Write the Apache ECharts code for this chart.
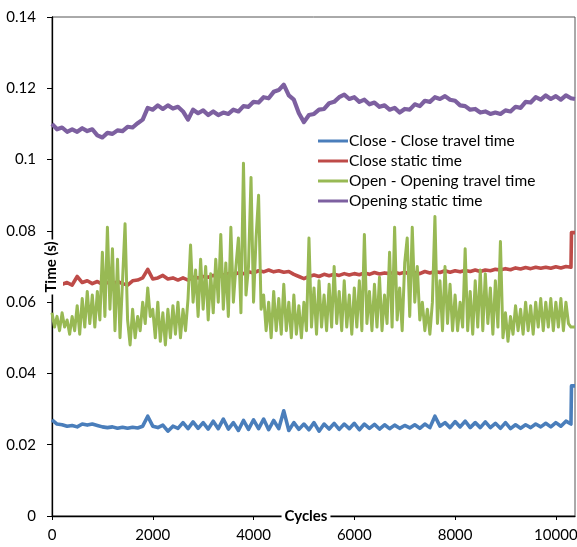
<!DOCTYPE html>
<html>
<head>
<meta charset="utf-8">
<script src="https://cdn.jsdelivr.net/npm/echarts@6/dist/echarts.min.js"></script>
<style>
html,body{margin:0;padding:0;background:#fff;}
#c{width:577px;height:547px;}
</style>
</head>
<body>
<div id="c"></div>
<script>
// ---- Data ----
var seriesNames = ["Close - Close travel time", "Close static time", "Open - Opening travel time", "Opening static time"];
var xAxisTitle = "Cycles";
var yAxisTitle = "Time (s)";
var yTickLabels = ["0", "0.02", "0.04", "0.06", "0.08", "0.1", "0.12", "0.14"];
var xTickLabels = ["0", "2000", "4000", "6000", "8000", "10000"];

// Close - Close travel time (blue)
var blueCycles = [0,100,200,300,400,500,600,700,800,900,1000,1100,1200,1300,1400,1500,1600,1700,1800,1900,2000,2100,2200,2300,2400,2500,2600,2700,2800,2900,3000,3100,3200,3300,3400,3500,3600,3700,3800,3900,4000,4100,4200,4300,4400,4500,4600,4700,4800,4900,5000,5100,5200,5300,5400,5500,5600,5700,5800,5900,6000,6100,6200,6300,6400,6500,6600,6700,6800,6900,7000,7100,7200,7300,7400,7500,7600,7700,7800,7900,8000,8100,8200,8300,8400,8500,8600,8700,8800,8900,9000,9100,9200,9300,9400,9500,9600,9700,9800,9900,10000,10100,10200,10300,10310,10380];
var blueValues = [0.0270,0.0258,0.0256,0.0252,0.0254,0.0250,0.0258,0.0255,0.0258,0.0254,0.0250,0.0248,0.0250,0.0246,0.0249,0.0246,0.0249,0.0247,0.0252,0.0280,0.0252,0.0248,0.0255,0.0238,0.0252,0.0246,0.0262,0.0245,0.0264,0.0246,0.0262,0.0244,0.0266,0.0245,0.0272,0.0244,0.0262,0.0240,0.0268,0.0243,0.0270,0.0245,0.0272,0.0242,0.0268,0.0245,0.0295,0.0240,0.0262,0.0243,0.0258,0.0242,0.0262,0.0238,0.0258,0.0244,0.0260,0.0243,0.0258,0.0245,0.0260,0.0242,0.0258,0.0246,0.0257,0.0244,0.0256,0.0245,0.0255,0.0246,0.0254,0.0247,0.0256,0.0246,0.0258,0.0248,0.0280,0.0252,0.0262,0.0248,0.0265,0.0250,0.0266,0.0248,0.0262,0.0248,0.0264,0.0248,0.0260,0.0246,0.0262,0.0245,0.0256,0.0246,0.0256,0.0248,0.0258,0.0250,0.0260,0.0250,0.0262,0.0252,0.0266,0.0258,0.0365,0.0365];

// Close static time (red)
var redCycles = [200,300,400,500,600,700,800,900,1000,1100,1200,1300,1400,1500,1600,1700,1800,1900,2000,2100,2200,2300,2400,2500,2600,2700,2800,2900,3000,3100,3200,3300,3400,3500,3600,3700,3800,3900,4000,4100,4200,4300,4400,4500,4600,4700,4800,4900,5000,5100,5200,5300,5400,5500,5600,5700,5800,5900,6000,6100,6200,6300,6400,6500,6600,6700,6800,6900,7000,7100,7200,7300,7400,7500,7600,7700,7800,7900,8000,8100,8200,8300,8400,8500,8600,8700,8800,8900,9000,9100,9200,9300,9400,9500,9600,9700,9800,9900,10000,10100,10200,10300,10310,10380];
var redValues = [0.0650,0.0655,0.0648,0.0672,0.0655,0.0660,0.0652,0.0658,0.0650,0.0655,0.0650,0.0658,0.0652,0.0648,0.0660,0.0662,0.0668,0.0692,0.0665,0.0668,0.0675,0.0665,0.0668,0.0662,0.0668,0.0662,0.0670,0.0668,0.0672,0.0670,0.0675,0.0672,0.0676,0.0680,0.0678,0.0682,0.0680,0.0685,0.0682,0.0688,0.0685,0.0690,0.0685,0.0688,0.0684,0.0686,0.0678,0.0672,0.0666,0.0672,0.0676,0.0672,0.0678,0.0674,0.0678,0.0675,0.0680,0.0676,0.0680,0.0677,0.0682,0.0678,0.0683,0.0679,0.0682,0.0680,0.0684,0.0680,0.0684,0.0679,0.0683,0.0680,0.0686,0.0682,0.0686,0.0683,0.0688,0.0684,0.0688,0.0685,0.0689,0.0686,0.0690,0.0686,0.0690,0.0688,0.0692,0.0690,0.0694,0.0691,0.0696,0.0693,0.0697,0.0694,0.0698,0.0695,0.0698,0.0695,0.0699,0.0696,0.0700,0.0698,0.0795,0.0795];

// Open - Opening travel time (green)
var greenCycles = [0,50,100,150,200,250,300,350,400,450,500,550,600,650,700,750,800,850,900,950,1000,1050,1100,1150,1200,1250,1300,1350,1400,1450,1500,1550,1600,1650,1700,1750,1800,1850,1900,1950,2000,2050,2100,2150,2200,2250,2300,2350,2400,2450,2500,2550,2600,2650,2700,2750,2800,2850,2900,2950,3000,3050,3100,3150,3200,3250,3300,3350,3400,3450,3500,3550,3600,3650,3700,3750,3800,3850,3900,3950,4000,4050,4100,4150,4200,4250,4300,4350,4400,4450,4500,4550,4600,4650,4700,4750,4800,4850,4900,4950,5000,5050,5100,5150,5200,5250,5300,5350,5400,5450,5500,5550,5600,5650,5700,5750,5800,5850,5900,5950,6000,6050,6100,6150,6200,6250,6300,6350,6400,6450,6500,6550,6600,6650,6700,6750,6800,6850,6900,6950,7000,7050,7100,7150,7200,7250,7300,7350,7400,7450,7500,7550,7600,7650,7700,7750,7800,7850,7900,7950,8000,8050,8100,8150,8200,8250,8300,8350,8400,8450,8500,8550,8600,8650,8700,8750,8800,8850,8900,8950,9000,9050,9100,9150,9200,9250,9300,9350,9400,9450,9500,9550,9600,9650,9700,9750,9800,9850,9900,9950,10000,10050,10100,10150,10200,10250,10300,10350,10380];
var greenValues = [
0.057,0.053,0.056,0.052,0.057,0.053,0.055,0.051,0.056,0.052,
0.059,0.051,0.061,0.053,0.063,0.054,0.062,0.053,0.063,0.055,
0.074,0.056,0.081,0.058,0.075,0.052,0.072,0.050,0.066,0.082,
0.055,0.048,0.058,0.050,0.056,0.052,0.060,0.054,0.064,0.056,
0.058,0.050,0.060,0.049,0.057,0.048,0.058,0.050,0.059,0.051,
0.060,0.050,0.058,0.052,0.061,0.076,0.060,0.069,0.056,0.072,
0.058,0.070,0.055,0.068,0.057,0.072,0.060,0.079,0.058,0.071,
0.056,0.081,0.060,0.070,0.078,0.057,0.099,0.062,0.070,0.095,
0.060,0.078,0.090,0.058,0.062,0.052,0.060,0.050,0.063,0.052,
0.061,0.051,0.065,0.052,0.060,0.050,0.062,0.051,0.059,0.050,
0.060,0.052,0.078,0.053,0.064,0.051,0.066,0.053,0.062,0.052,
0.065,0.053,0.070,0.054,0.063,0.052,0.066,0.053,0.062,0.051,
0.064,0.053,0.066,0.052,0.079,0.054,0.063,0.052,0.065,0.053,
0.067,0.052,0.062,0.054,0.074,0.053,0.081,0.055,0.064,0.052,
0.071,0.078,0.056,0.081,0.060,0.070,0.055,0.060,0.052,0.058,
0.051,0.060,0.084,0.054,0.066,0.052,0.070,0.054,0.065,0.052,
0.062,0.052,0.060,0.053,0.075,0.052,0.063,0.051,0.066,0.053,
0.069,0.052,0.068,0.054,0.064,0.051,0.066,0.053,0.077,0.050,
0.057,0.049,0.056,0.051,0.059,0.052,0.058,0.051,0.060,0.052,
0.059,0.051,0.060,0.053,0.061,0.052,0.060,0.053,0.061,0.052,
0.060,0.053,0.061,0.052,0.060,0.054,0.053,0.053,0.053];

// Opening static time (purple)
var purpleCycles = [0,100,200,300,400,500,600,700,800,900,1000,1100,1200,1300,1400,1500,1600,1700,1800,1900,2000,2100,2200,2300,2400,2500,2600,2700,2800,2900,3000,3100,3200,3300,3400,3500,3600,3700,3800,3900,4000,4100,4200,4300,4400,4500,4600,4700,4800,4900,5000,5100,5200,5300,5400,5500,5600,5700,5800,5900,6000,6100,6200,6300,6400,6500,6600,6700,6800,6900,7000,7100,7200,7300,7400,7500,7600,7700,7800,7900,8000,8100,8200,8300,8400,8500,8600,8700,8800,8900,9000,9100,9200,9300,9400,9500,9600,9700,9800,9900,10000,10100,10200,10300,10380];
var purpleValues = [0.1100,0.1085,0.1090,0.1078,0.1085,0.1078,0.1088,0.1080,0.1085,0.1068,0.1062,0.1075,0.1072,0.1082,0.1080,0.1092,0.1090,0.1102,0.1112,0.1145,0.1140,0.1152,0.1142,0.1152,0.1143,0.1148,0.1135,0.1112,0.1140,0.1130,0.1138,0.1125,0.1135,0.1125,0.1132,0.1128,0.1140,0.1135,0.1150,0.1148,0.1162,0.1160,0.1175,0.1172,0.1190,0.1195,0.1210,0.1180,0.1168,0.1130,0.1105,0.1125,0.1128,0.1140,0.1142,0.1158,0.1162,0.1175,0.1182,0.1170,0.1175,0.1162,0.1168,0.1155,0.1160,0.1148,0.1152,0.1140,0.1145,0.1132,0.1142,0.1140,0.1155,0.1150,0.1165,0.1162,0.1175,0.1170,0.1178,0.1168,0.1165,0.1152,0.1150,0.1140,0.1142,0.1132,0.1135,0.1128,0.1132,0.1128,0.1138,0.1135,0.1148,0.1145,0.1162,0.1160,0.1175,0.1168,0.1180,0.1170,0.1178,0.1168,0.1180,0.1172,0.1170];

var colors = ["#4A7EBB", "#BE4B48", "#98B954", "#7D60A0"];
var widths = [3.6, 3.6, 3.0, 4.2];

function zip(xs, ys) { return xs.map(function (x, i) { return [x, ys[i]]; }); }

var FONT = "Lato";
var chart = echarts.init(document.getElementById("c"), null, { renderer: "canvas" });

function mkSeries(idx, xs, ys) {
  return {
    name: seriesNames[idx],
    type: "line",
    data: zip(xs, ys),
    showSymbol: false,
    symbol: "none",
    lineStyle: { color: colors[idx], width: widths[idx], join: "round" },
    itemStyle: { color: colors[idx] },
    animation: false,
    silent: true
  };
}

chart.setOption({
  animation: false,
  backgroundColor: "#fff",
  grid: { left: 52, right: 2, top: 17, bottom: 31, show: true, borderColor: "#555", borderWidth: 1, containLabel: false, outerBoundsMode: "none" },
  legend: {
    orient: "vertical",
    left: 318,
    top: 133,
    icon: "rect",
    itemWidth: 30,
    itemHeight: 3,
    itemGap: 4,
    padding: 0,
    textStyle: { fontFamily: FONT, fontSize: 15.5, lineHeight: 16, color: "#000", padding: [0, 0, 0, -4] },
    data: seriesNames.slice()
  },
  graphic: [
    {
      type: "text", z: 100, x: 306, y: 516,
      style: { text: xAxisTitle, fill: "#000", font: "bold 15px Lato", textAlign: "center", textVerticalAlign: "middle", backgroundColor: "#fff", padding: [1, 3, 1, 3] }
    },
    {
      type: "text", z: 100, x: 51.5, y: 267, rotation: Math.PI / 2,
      style: { text: yAxisTitle, fill: "#000", font: "bold 15px Lato", textAlign: "center", textVerticalAlign: "middle", backgroundColor: "#fff", padding: [4, 2, 4, 2] }
    }
  ],
  xAxis: {
    type: "value",
    min: 0,
    max: 10380,
    interval: 2000,
    axisLine: { show: true, onZero: false, lineStyle: { color: "#000", width: 1.3 } },
    axisTick: { show: true, inside: false, length: 4, lineStyle: { color: "#000" } },
    axisLabel: {
      show: true, margin: 12, fontFamily: FONT, fontSize: 15, color: "#000", showMaxLabel: false,
      formatter: function (v) { var i = Math.round(v / 2000); return (v % 2000 === 0 && xTickLabels[i] !== undefined) ? xTickLabels[i] : ""; }
    },
    splitLine: { show: false }
  },
  yAxis: {
    type: "value",
    min: 0,
    max: 0.14,
    interval: 0.02,
    axisLine: { show: true, onZero: false, lineStyle: { color: "#000", width: 1.3 } },
    axisTick: { show: true, inside: false, length: 5, lineStyle: { color: "#000" } },
    axisLabel: {
      show: true, margin: 16, fontFamily: FONT, fontSize: 15, color: "#000",
      formatter: function (v) { var i = Math.round(v / 0.02); return yTickLabels[i] !== undefined ? yTickLabels[i] : ""; }
    },
    splitLine: { show: false }
  },
  series: [
    mkSeries(0, blueCycles, blueValues),
    mkSeries(1, redCycles, redValues),
    mkSeries(2, greenCycles, greenValues),
    mkSeries(3, purpleCycles, purpleValues)
  ]
});
</script>
</body>
</html>
